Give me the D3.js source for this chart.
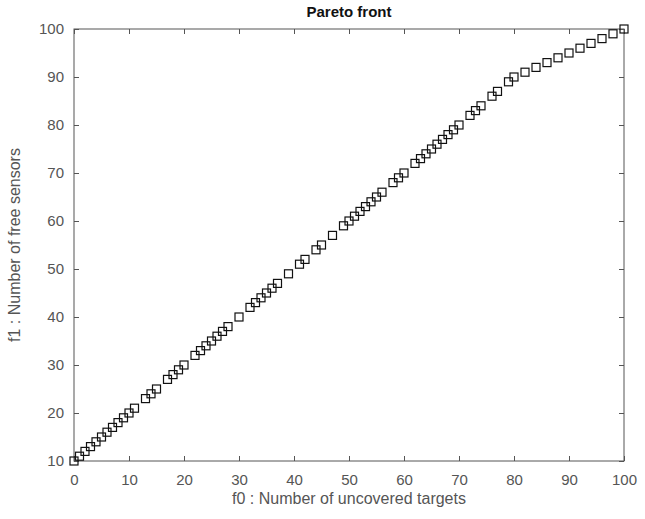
<html>
<script src="https://d3js.org/d3.v7.min.js"></script>
<style>
body { margin: 0; background: #fff; }
text { font-family: "Liberation Sans", Arial, sans-serif; }
</style>
<body>
<svg width="645" height="519"></svg>
<script>
// Pareto front points (f0, f1)
var f0 = [0,1,2,3,4,5,6,7,8,9,10,11,13,14,15,17,18,19,20,22,23,24,25,26,27,28,30,32,33,34,35,36,37,39,41,42,44,45,47,49,50,51,52,53,54,55,56,58,59,60,62,63,64,65,66,67,68,69,70,72,73,74,76,77,79,80,82,84,86,88,90,92,94,96,98,100];
var f1 = [10,11,12,13,14,15,16,17,18,19,20,21,23,24,25,27,28,29,30,32,33,34,35,36,37,38,40,42,43,44,45,46,47,49,51,52,54,55,57,59,60,61,62,63,64,65,66,68,69,70,72,73,74,75,76,77,78,79,80,82,83,84,86,87,89,90,91,92,93,94,95,96,97,98,99,100];
var xTicks = [0,10,20,30,40,50,60,70,80,90,100];
var yTicks = [10,20,30,40,50,60,70,80,90,100];

var plotL = 74, plotR = 624, plotT = 29, plotB = 461;
var axisColor = "#555";

var svg = d3.select("svg");
var x = d3.scaleLinear().domain([0,100]).range([plotL,plotR]);
var y = d3.scaleLinear().domain([10,100]).range([plotB,plotT]);

// ticks on all four sides, pointing inward
function styleAxis(g) {
  g.select(".domain").remove();
  g.selectAll("line").attr("stroke", axisColor);
  g.selectAll("text").attr("fill", "#555").style("font-size", "15px");
}
svg.append("g").attr("transform", "translate(0," + plotB + ")")
  .call(d3.axisBottom(x).tickValues(xTicks).tickSizeInner(-5).tickSizeOuter(0).tickPadding(13))
  .call(styleAxis);
svg.append("g").attr("transform", "translate(0," + plotT + ")")
  .call(d3.axisTop(x).tickValues(xTicks).tickSizeInner(-5).tickSizeOuter(0).tickFormat(""))
  .call(styleAxis);
svg.append("g").attr("transform", "translate(" + plotL + ",0)")
  .call(d3.axisLeft(y).tickValues(yTicks).tickSizeInner(-5).tickSizeOuter(0).tickPadding(10))
  .call(styleAxis);
svg.append("g").attr("transform", "translate(" + plotR + ",0)")
  .call(d3.axisRight(y).tickValues(yTicks).tickSizeInner(-5).tickSizeOuter(0).tickFormat(""))
  .call(styleAxis);

svg.append("rect").attr("x", plotL).attr("y", plotT)
  .attr("width", plotR - plotL).attr("height", plotB - plotT)
  .attr("fill", "none").attr("stroke", axisColor).attr("stroke-width", 1);

// markers
var pts = f0.map(function(d, i) { return [d, f1[i]]; });
var s = 8;
svg.append("g").selectAll("rect").data(pts).enter()
  .append("rect")
  .attr("x", function(d) { return x(d[0]) - s/2; })
  .attr("y", function(d) { return y(d[1]) - s/2; })
  .attr("width", s).attr("height", s)
  .attr("fill", "none").attr("stroke", "#111").attr("stroke-width", 1.2);

// labels
svg.append("text").attr("x", (plotL + plotR)/2).attr("y", 17)
  .attr("text-anchor", "middle").style("font-size", "15px").style("font-weight", "bold")
  .attr("fill", "#111").text("Pareto front");
svg.append("text").attr("x", (plotL + plotR)/2).attr("y", 504)
  .attr("text-anchor", "middle").style("font-size", "16px").attr("fill", "#555")
  .text("f0 : Number of uncovered targets");
svg.append("text").attr("transform", "translate(20," + ((plotT + plotB)/2) + ") rotate(-90)")
  .attr("text-anchor", "middle").style("font-size", "16px").attr("fill", "#555")
  .text("f1 : Number of free sensors");
</script>
</body>
</html>
